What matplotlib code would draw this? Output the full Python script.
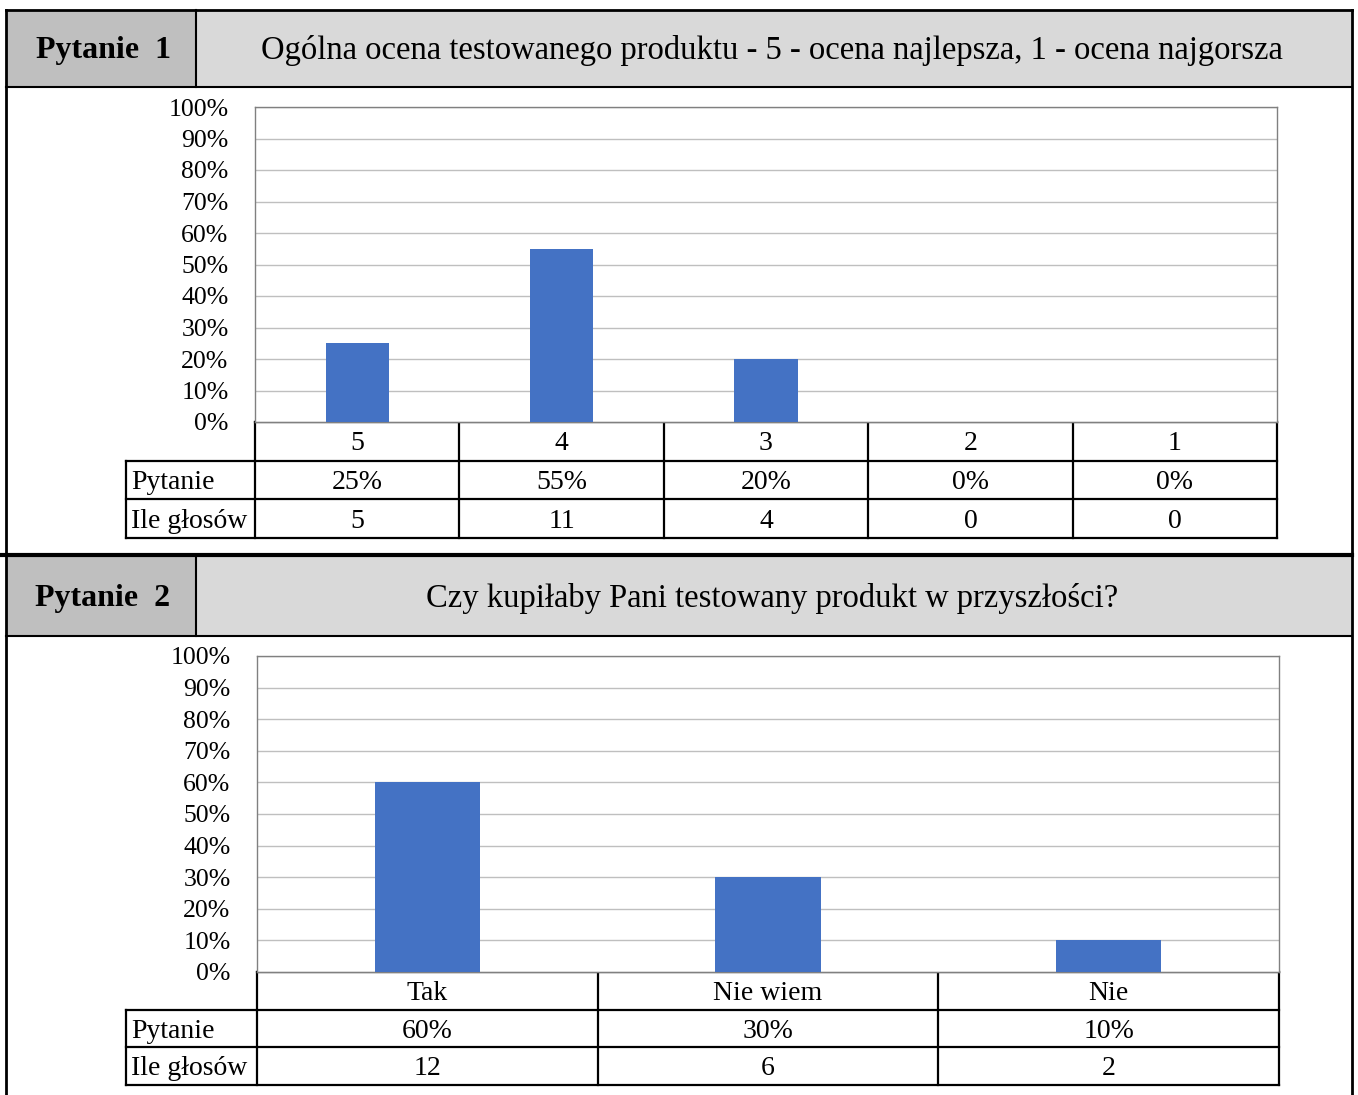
import matplotlib
matplotlib.use("Agg")
import matplotlib.pyplot as plt
from matplotlib.patches import Rectangle

# data
q1_label = "Pytanie  1"
q1_title = "Ogólna ocena testowanego produktu - 5 - ocena najlepsza, 1 - ocena najgorsza"
q1_categories = ["5", "4", "3", "2", "1"]
q1_share = [0.25, 0.55, 0.20, 0.0, 0.0]
q1_votes = [5, 11, 4, 0, 0]

q2_label = "Pytanie  2"
q2_title = "Czy kupiłaby Pani testowany produkt w przyszłości?"
q2_categories = ["Tak", "Nie wiem", "Nie"]
q2_share = [0.60, 0.30, 0.10]
q2_votes = [12, 6, 2]

row_names = ["Pytanie", "Ile głosów"]
y_ticks = [i / 10 for i in range(11)]
y_tick_labels = [f"{i * 10}%" for i in range(11)]

W, H = 1358, 1095
BAR = "#4472C4"
DARK = "#BFBFBF"
LIGHT = "#D9D9D9"

plt.rcParams['font.family'] = ['Liberation Serif', 'DejaVu Serif']

fig = plt.figure(figsize=(W / 100, H / 100), dpi=100)
bg = fig.add_axes([0, 0, 1, 1])
bg.set_xlim(0, W)
bg.set_ylim(H, 0)
bg.axis('off')


def header(y0, y1, label, title):
    bg.add_patch(Rectangle((6, y0), 190, y1 - y0, facecolor=DARK, edgecolor='none'))
    bg.add_patch(Rectangle((196, y0), 1352 - 196, y1 - y0, facecolor=LIGHT, edgecolor='none'))
    bg.plot([196, 196], [y0, y1], color='black', lw=1.5)
    bg.plot([6, 1352], [y1, y1], color='black', lw=1.5)
    ym = (y0 + y1) / 2 + 2
    bg.text(103, ym, label, ha='center', va='center', fontsize=23, fontweight='bold')
    bg.text(772, ym, title, ha='center', va='center', fontsize=23.5)


def chart(x0, x1, y0, y1, cats, share, votes, row_h):
    ax = fig.add_axes([x0 / W, 1 - y1 / H, (x1 - x0) / W, (y1 - y0) / H])
    n = len(cats)
    ax.bar(range(n), share, width=0.31, color=BAR, zorder=3)
    ax.set_xlim(-0.5, n - 0.5)
    ax.set_ylim(0, 1)
    ax.set_yticks(y_ticks)
    ax.set_yticklabels(y_tick_labels, fontsize=18.5)
    ax.set_xticks([])
    ax.tick_params(axis='y', length=0, pad=19)
    ax.grid(axis='y', color='#BFBFBF', lw=1, zorder=0)
    for s in ax.spines.values():
        s.set_color('#808080')
        s.set_linewidth(1)

    # data table under the plot, columns follow the axes categories
    cw = (x1 - x0) / n
    rows = [list(cats), [f"{v * 100:.0f}%" for v in share], [str(v) for v in votes]]
    tops = [y1 + i * row_h for i in range(4)]
    lw = 1.6
    bg.plot([x0, x1], [tops[0], tops[0]], color='black', lw=lw)
    for i in range(1, 4):
        bg.plot([126, x1], [tops[i], tops[i]], color='black', lw=lw)
    bg.plot([126, 126], [tops[1], tops[3]], color='black', lw=lw)
    for j in range(n + 1):
        bg.plot([x0 + j * cw, x0 + j * cw], [tops[0], tops[3]], color='black', lw=lw)
    for i, row in enumerate(rows):
        yc = (tops[i] + tops[i + 1]) / 2 + 2.5
        for j, txt in enumerate(row):
            bg.text(x0 + (j + 0.5) * cw, yc, txt, ha='center', va='center', fontsize=20)
        if i > 0:
            bg.text(131, yc, row_names[i - 1], ha='left', va='center', fontsize=20)
    return ax


# outer frame
bg.plot([6, 6], [10, H], color='black', lw=2)
bg.plot([1352, 1352], [10, H], color='black', lw=2)
bg.plot([6, 1352], [10, 10], color='black', lw=2)

header(10, 87, q1_label, q1_title)
chart(255, 1277, 107, 422, q1_categories, q1_share, q1_votes, 38.7)

bg.plot([0, 1352], [555, 555], color='black', lw=3)
header(557, 636, q2_label, q2_title)
chart(257, 1279, 656, 972, q2_categories, q2_share, q2_votes, 37.7)

fig.savefig("out.png", dpi=100)
